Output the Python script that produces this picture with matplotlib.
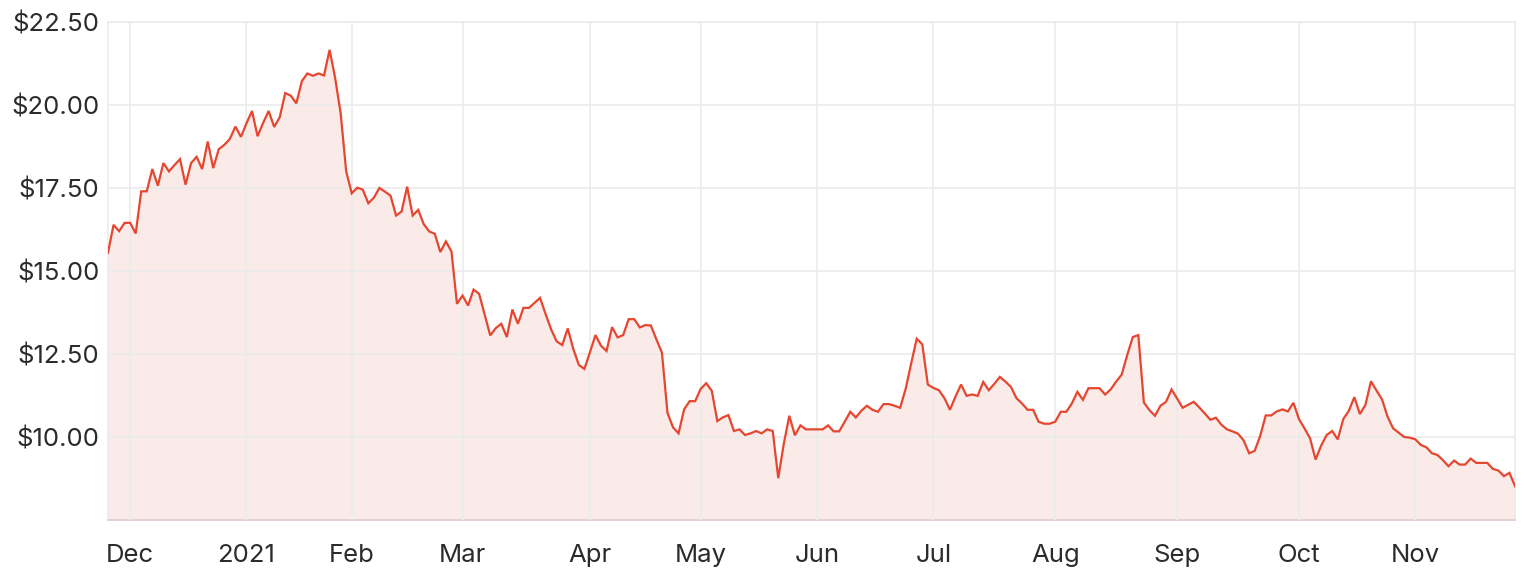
import matplotlib
matplotlib.use("Agg")
import matplotlib.pyplot as plt
import pandas as pd
import numpy as np

plt.rcParams['font.family'] = ['Inter', 'DejaVu Sans']

# ASX trading days, 25 Nov 2020 .. 25 Nov 2021
start_date = "2020-11-25"
end_date = "2021-11-25"
holidays = ["2020-12-25", "2020-12-28", "2021-01-01", "2021-01-26",
            "2021-04-02", "2021-04-05", "2021-06-14"]

prices = [
    15.55, 16.39, 16.20, 16.45, 16.45, 16.13, 17.40, 17.40, 18.07, 17.57,
    18.25, 18.00, 18.19, 18.37, 17.60, 18.25, 18.44, 18.07, 18.90, 18.10,
    18.67, 18.80, 18.98, 19.35, 19.04, 19.45, 19.82, 19.06, 19.46, 19.82,
    19.34, 19.63, 20.36, 20.28, 20.05, 20.72, 20.95, 20.88, 20.95, 20.89,
    21.66, 20.82, 19.75, 18.00, 17.34, 17.51, 17.45, 17.04, 17.21, 17.50,
    17.39, 17.27, 16.67, 16.79, 17.54, 16.67, 16.84, 16.41, 16.19, 16.12,
    15.57, 15.89, 15.59, 14.01, 14.26, 13.96, 14.44, 14.31, 13.69, 13.06,
    13.28, 13.41, 13.01, 13.84, 13.41, 13.89, 13.89, 14.04, 14.19, 13.70,
    13.24, 12.88, 12.77, 13.27, 12.65, 12.17, 12.05, 12.55, 13.07, 12.75,
    12.59, 13.31, 13.00, 13.07, 13.55, 13.55, 13.30, 13.37, 13.36, 12.94,
    12.54, 10.73, 10.29, 10.11, 10.83, 11.08, 11.08, 11.45, 11.62, 11.39,
    10.48, 10.59, 10.66, 10.18, 10.23, 10.06, 10.11, 10.18, 10.11, 10.23,
    10.18, 8.76, 9.80, 10.64, 10.05, 10.35, 10.23, 10.23, 10.23, 10.23,
    10.35, 10.17, 10.17, 10.46, 10.76, 10.59, 10.79, 10.94, 10.82, 10.76,
    10.99, 10.99, 10.94, 10.88, 11.45, 12.22, 12.96, 12.79, 11.58, 11.48,
    11.41, 11.17, 10.82, 11.22, 11.58, 11.24, 11.28, 11.24, 11.66, 11.41,
    11.60, 11.81, 11.67, 11.51, 11.17, 11.01, 10.82, 10.82, 10.46, 10.40,
    10.40, 10.46, 10.76, 10.76, 11.01, 11.36, 11.12, 11.47, 11.47, 11.47,
    11.28, 11.43, 11.67, 11.88, 12.47, 13.01, 13.07, 11.04, 10.81, 10.64,
    10.94, 11.06, 11.43, 11.16, 10.88, 10.97, 11.06, 10.89, 10.71, 10.52,
    10.58, 10.37, 10.23, 10.17, 10.10, 9.90, 9.51, 9.58, 10.03, 10.65,
    10.65, 10.77, 10.83, 10.77, 11.03, 10.54, 10.26, 9.96, 9.32, 9.74,
    10.06, 10.18, 9.93, 10.54, 10.79, 11.20, 10.69, 10.97, 11.68, 11.40,
    11.13, 10.61, 10.26, 10.13, 10.00, 9.98, 9.93, 9.76, 9.69, 9.51,
    9.46, 9.30, 9.12, 9.29, 9.17, 9.17, 9.35, 9.22, 9.22, 9.22,
    9.04, 8.99, 8.82, 8.92, 8.52,
]

y_ticks = [10.0, 12.5, 15.0, 17.5, 20.0, 22.5]
y_range = (7.5, 22.5)

dates = pd.bdate_range(start_date, end_date)
dates = dates[~dates.isin(pd.to_datetime(holidays))]
assert len(dates) == len(prices), (len(dates), len(prices))

idx = np.arange(len(prices))
# first trading day of each month
months = pd.Series(dates.to_period("M"))
first = months.ne(months.shift())
tick_pos = [i for i in idx[first.values] if dates[i].day <= 7 and i > 0]
tick_lab = [("2021" if dates[i].month == 1 else dates[i].strftime("%b")) for i in tick_pos]

line_color = "#e6462f"
fill_color = "#fbebe8"
grid_color = "#ebebeb"
text_color = "#2b2b2b"

fig = plt.figure(figsize=(15.26, 5.76), dpi=100)
ax = fig.add_axes([108 / 1526, 1 - 520 / 576, (1515 - 108) / 1526, (520 - 22) / 576])

ax.fill_between(idx, prices, y_range[0], color=fill_color, linewidth=0, zorder=1)
ax.plot(idx, prices, color=line_color, linewidth=1.6, zorder=3, solid_joinstyle="miter")

ax.set_xlim(0, len(prices) - 1)
ax.set_ylim(*y_range)
ax.set_yticks(y_ticks)
ax.set_yticklabels([f"${v:.2f}" for v in y_ticks])
ax.set_xticks(tick_pos)
ax.set_xticklabels(tick_lab)

ax.grid(True, color=grid_color, linewidth=1.2, zorder=2)
ax.set_axisbelow(False)
for s in ["top", "right", "left"]:
    ax.spines[s].set_color(grid_color)
    ax.spines[s].set_linewidth(1.2)
ax.spines["bottom"].set_color("#e3d2d0")
ax.spines["bottom"].set_linewidth(1.4)
ax.tick_params(axis="both", length=0, labelsize=18.5, colors=text_color)
ax.tick_params(axis="y", pad=6)
ax.tick_params(axis="x", pad=17)

fig.savefig("out.png", dpi=100)
